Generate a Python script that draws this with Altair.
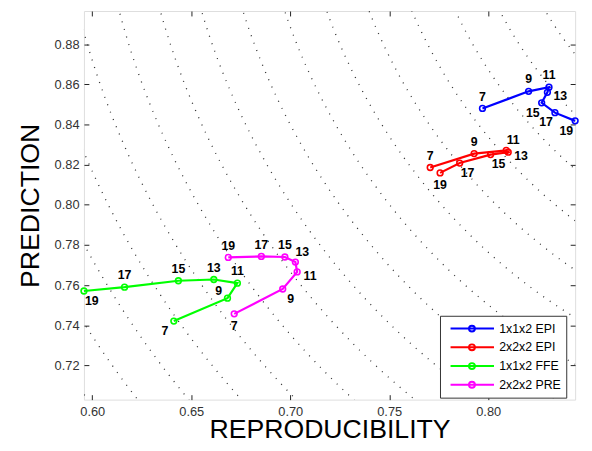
import altair as alt
import pandas as pd
import numpy as np

# ---------------- data ----------------
tr = [7, 9, 11, 13, 15, 17, 19]
series_names = ["1x1x2 EPI", "2x2x2 EPI", "1x1x2 FFE", "2x2x2 PRE"]
series_colors = ["#0000FF", "#FF0000", "#00FF00", "#FF00FF"]

epi1_x = [0.7971, 0.8204, 0.8307, 0.8299, 0.8270, 0.8337, 0.8439]
epi1_y = [0.8480, 0.8565, 0.8586, 0.8560, 0.8508, 0.8459, 0.8418]
epi2_x = [0.7707, 0.7929, 0.8091, 0.8101, 0.8012, 0.7856, 0.7757]
epi2_y = [0.8186, 0.8255, 0.8271, 0.8262, 0.8250, 0.8208, 0.8159]
ffe1_x = [0.6412, 0.6683, 0.6733, 0.6614, 0.6435, 0.6163, 0.5958]
ffe1_y = [0.7421, 0.7535, 0.7610, 0.7628, 0.7622, 0.7590, 0.7571]
pre2_x = [0.6717, 0.6962, 0.7035, 0.7026, 0.6973, 0.6854, 0.6687]
pre2_y = [0.7457, 0.7581, 0.7666, 0.7715, 0.7740, 0.7743, 0.7738]

# where each TR label sits relative to its point
epi1_pos = ["n", "n", "n", "e", "sw", "sw", "sw"]
epi2_pos = ["n", "n", "ne", "e", "se", "se", "s"]
ffe1_pos = ["sw", "nw", "n", "n", "n", "n", "se"]
pre2_pos = ["s", "se", "e", "ne", "n", "n", "n"]

# radii of the dotted iso-distance curves around (1, 1)
radii = [0.20, 0.22, 0.24, 0.26, 0.28, 0.30, 0.32, 0.34, 0.36, 0.38,
         0.40, 0.42, 0.44, 0.46, 0.48, 0.50]

x_ticks = [0.60, 0.65, 0.70, 0.75, 0.80]
y_ticks = [0.72, 0.74, 0.76, 0.78, 0.80, 0.82, 0.84, 0.86, 0.88]
x_domain = [0.5958, 0.8439]
y_domain = [0.703, 0.8965]

# ---------------- tables ----------------
rows = []
for name, xs_, ys_, ps in zip(series_names,
                              [epi1_x, epi2_x, ffe1_x, pre2_x],
                              [epi1_y, epi2_y, ffe1_y, pre2_y],
                              [epi1_pos, epi2_pos, ffe1_pos, pre2_pos]):
    for k, (t, xv, yv, p) in enumerate(zip(tr, xs_, ys_, ps)):
        rows.append({"series": name, "k": k, "tr": str(t), "x": xv, "y": yv, "pos": p})
df = pd.DataFrame(rows)

theta = np.linspace(np.pi, 1.5 * np.pi, 300)
crows = []
for r in radii:
    for i, th in enumerate(theta):
        crows.append({"r": r, "i": i, "x": 1 + r * np.cos(th), "y": 1 + r * np.sin(th)})
cdf = pd.DataFrame(crows)

# ---------------- styling ----------------
W, H = 498, 394
FONT = "Liberation Sans"
xs = alt.Scale(domain=x_domain, nice=False, zero=False)
ys = alt.Scale(domain=y_domain, nice=False, zero=False)
cscale = alt.Scale(domain=series_names, range=series_colors)

def tick_axis(orient, offset, values):
    return alt.Axis(orient=orient, offset=offset, values=values, labels=False,
                    domain=False, grid=False, ticks=True, tickSize=5,
                    tickColor="#222", tickWidth=1, title="")

# contour layer carries the labelled axes
contours = alt.Chart(cdf).mark_line(
    clip=True, strokeDash=[1, 7], strokeWidth=1.3, color="#333"
).encode(
    x=alt.X("x:Q", scale=xs, axis=alt.Axis(
        orient="bottom", values=x_ticks, format=".2f", ticks=False, domain=False,
        grid=False, labelPadding=6, labelFont=FONT, labelFontSize=13,
        labelColor="#333", title="REPRODUCIBILITY", titleFont=FONT,
        titleFontSize=27, titleFontWeight="normal", titleColor="#000",
        titleBaseline="alphabetic", titleY=38)),
    y=alt.Y("y:Q", scale=ys, axis=alt.Axis(
        orient="left", values=y_ticks, format=".2f", ticks=False, domain=False,
        grid=False, labelPadding=5, labelFont=FONT, labelFontSize=13,
        labelColor="#333", title="PREDICTION", titleFont=FONT,
        titleFontSize=27, titleFontWeight="normal", titleColor="#000",
        titleBaseline="alphabetic", titleX=-46)),
    detail="r:N",
    order="i:Q",
)

legend_path = ("M-0.33,0H5.96M3.2,0A0.43,0.43,0,1,1,2.34,0"
               "A0.43,0.43,0,1,1,3.2,0")
legend = alt.Legend(
    title=None, orient="none", legendX=361, legendY=309, padding=5,
    strokeColor="#333", fillColor="white", symbolType=legend_path,
    symbolSize=196, symbolStrokeWidth=2, labelOffset=39, labelFont=FONT,
    labelFontSize=12.5, labelColor="#000", rowPadding=3,
)

lines = alt.Chart(df).mark_line(strokeWidth=2.2).encode(
    x=alt.X("x:Q", scale=xs, axis=tick_axis("top", -H, x_ticks)),
    y=alt.Y("y:Q", scale=ys, axis=tick_axis("right", -W, y_ticks)),
    color=alt.Color("series:N", scale=cscale, legend=legend),
    order="k:Q",
)

points = alt.Chart(df).mark_point(filled=False, size=34, strokeWidth=1.6, opacity=1).encode(
    x=alt.X("x:Q", scale=xs, axis=tick_axis("bottom", -H, x_ticks)),
    y=alt.Y("y:Q", scale=ys, axis=tick_axis("left", -W, y_ticks)),
    color=alt.Color("series:N", scale=cscale, legend=None),
)

offsets = {"n": (0, -12), "s": (0, 12), "e": (13, 4), "se": (8, 10),
           "sw": (-9, 10), "nw": (-9, -7), "ne": (7, -10)}
texts = []
for code, (dx, dy) in offsets.items():
    texts.append(
        alt.Chart(df).transform_filter(alt.datum.pos == code).mark_text(
            dx=dx, dy=dy, font=FONT, fontSize=12.5, fontWeight="bold",
            color="#000", align="center", baseline="middle"
        ).encode(
            x=alt.X("x:Q", scale=xs, axis=None),
            y=alt.Y("y:Q", scale=ys, axis=None),
            text="tr:N",
        )
    )

chart = alt.layer(contours, lines, points, *texts).resolve_axis(
    x="independent", y="independent"
).properties(
    width=W, height=H,
    autosize=alt.AutoSizeParams(type="none"),
    padding={"left": 77, "top": 0, "right": 9, "bottom": 47},
).configure_view(
    stroke="#222", strokeWidth=1
).configure(background="white")

chart.save("out.html", embed_options={"renderer": "svg", "actions": False})
